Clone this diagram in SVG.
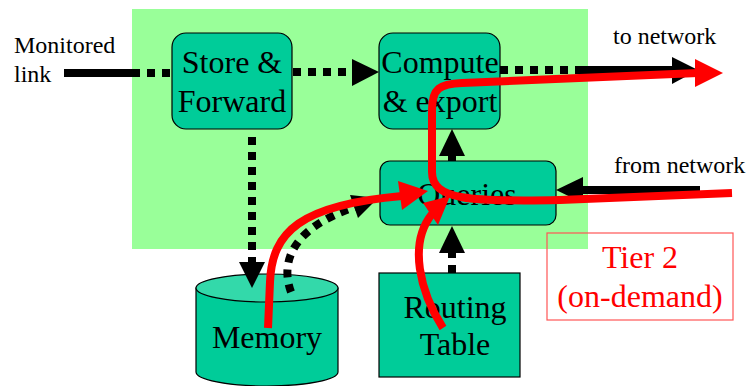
<svg xmlns="http://www.w3.org/2000/svg" width="748" height="386" viewBox="0 0 748 386">
<style>
.big{font-size:32px}
.sm{font-size:24px}
.box{fill:#00CC99;stroke:#000;stroke-width:1.2}
.dot{fill:none;stroke:#000;stroke-width:8;stroke-dasharray:8 7}
.solid{fill:none;stroke:#000;stroke-width:8}
.red{fill:none;stroke:#FF0000;stroke-width:8;stroke-linecap:butt}
.ah{fill:#000}
.rh{fill:#FF0000}
.rt{fill:#FF0000}
</style>
<rect x="132" y="9" width="456" height="240" fill="#99FF99"/>
<g font-family="Liberation Serif, serif">
<g id="store-forward">
<rect class="box" x="172" y="33" width="120" height="96" rx="14"/>
<text class="big" x="232" y="73" text-anchor="middle">Store &amp;</text>
<text class="big" x="232" y="112" text-anchor="middle">Forward</text>
</g>
<g id="compute-export">
<rect class="box" x="379" y="33" width="121" height="96" rx="14"/>
<text class="big" x="440" y="73" text-anchor="middle">Compute</text>
<text class="big" x="440" y="112" text-anchor="middle">&amp; export</text>
</g>
<g id="queries">
<rect class="box" x="380" y="161" width="176" height="64" rx="10"/>
<text class="big" x="467" y="205" text-anchor="middle">Queries</text>
</g>
<g id="routing-table">
<rect class="box" x="379" y="273" width="141" height="104"/>
<text class="big" x="455" y="318" text-anchor="middle">Routing</text>
<text class="big" x="455" y="355" text-anchor="middle">Table</text>
</g>
<g id="memory">
<path class="box" d="M196,288 L196,372 A71,14 0 0 0 338,372 L338,288 Z"/>
<ellipse cx="267" cy="288" rx="71" ry="14" fill="#33D9AA" stroke="#000" stroke-width="1.2"/>
<text class="big" x="267" y="348" text-anchor="middle">Memory</text>
</g>
<g id="labels">
<text class="sm" x="14" y="53">Monitored</text>
<text class="sm" x="14" y="82">link</text>
<text class="sm" x="613" y="44">to network</text>
<text class="sm" x="614" y="173">from network</text>
</g>
<g id="tier2">
<rect x="547" y="233" width="186" height="87" fill="none" stroke="#FF5555" stroke-width="1.2"/>
<text class="big rt" x="640" y="268" text-anchor="middle">Tier 2</text>
<text class="big rt" x="640" y="307" text-anchor="middle">(on-demand)</text>
</g>
</g>
<g id="connectors">
<line class="solid" x1="64" y1="73" x2="132" y2="73" stroke-width="9"/>
<line class="dot" x1="132" y1="73" x2="172" y2="73"/>
<line class="dot" x1="293" y1="72" x2="352" y2="72"/>
<polygon class="ah" points="352,59 379,72 352,86"/>
<line class="dot" x1="500" y1="70" x2="575" y2="70"/>
<line class="solid" x1="575" y1="70" x2="672" y2="70"/>
<polygon class="ah" points="672,57 698,70 672,84"/>
<line class="solid" x1="700" y1="190" x2="582" y2="190"/>
<polygon class="ah" points="583,177 556,190 583,203"/>
<line class="solid" x1="452" y1="161" x2="452" y2="150"/>
<polygon class="ah" points="439,156 452,129 465,156"/>
<line class="dot" x1="452" y1="273" x2="452" y2="253" stroke-dasharray="8 12"/>
<polygon class="ah" points="439,253 452,226 465,253"/>
<line class="dot" x1="252" y1="137" x2="252" y2="262"/>
<polygon class="ah" points="239,262 252,288 265,262"/>
<path class="dot" d="M291,292 C280,262 292,228 355,207"/>
<polygon class="ah" points="350,195 378,198 358,218"/>
<path class="red" d="M732,193 L560,200 C470,202 432,200 432,172 L432,110 C432,88 440,84 462,83 L698,73"/>
<polygon class="rh" points="695,59 723,73 695,87"/>
<path class="red" d="M268,328 L270,282 C272,232 300,205 402,196"/>
<polygon class="rh" points="398,181 428,191 402,210"/>
<path class="red" d="M443,328 C420,292 408,244 432,214"/>
<polygon class="rh" points="423,203 450,196 438,225"/>
</g>
</svg>
